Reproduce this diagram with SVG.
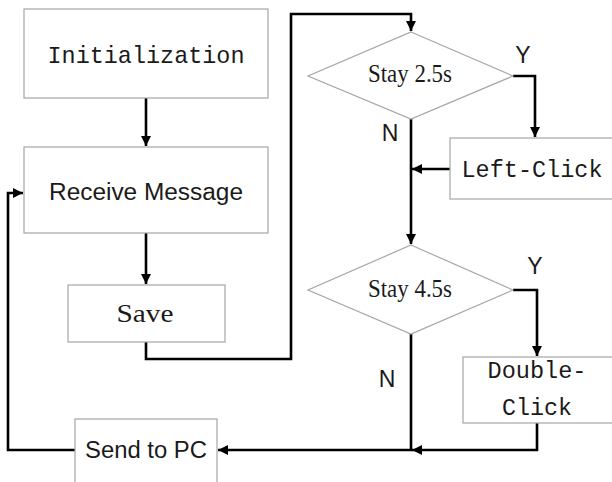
<svg xmlns="http://www.w3.org/2000/svg" width="612" height="482" viewBox="0 0 612 482">
<style>
.box{fill:#fff;stroke:#a6a6a6;stroke-width:1.2}
.con{fill:none;stroke:#000;stroke-width:2.6}
.mono{font-family:"Liberation Mono",monospace;font-size:24px;fill:#1a1a1a}
.sans{font-family:"Liberation Sans",Arial,sans-serif;font-size:23px;fill:#1a1a1a}
.serif{font-family:"Liberation Serif","Times New Roman",serif;font-size:25px;fill:#1a1a1a}
.lbl{font-family:"Liberation Sans",Arial,sans-serif;font-size:23px;fill:#1a1a1a}
</style>
<defs>
<marker id="ah" viewBox="0 0 10 10" refX="10" refY="5" markerWidth="4" markerHeight="4.2" orient="auto" markerUnits="strokeWidth">
<path d="M0,0 L10,5 L0,10 z" fill="#000"/>
</marker>
</defs>
<rect width="612" height="482" fill="#fff"/>
<g id="connectors">
<path class="con" d="M146,98 V146" marker-end="url(#ah)"/>
<path class="con" d="M146,233 V284" marker-end="url(#ah)"/>
<path class="con" d="M146,342 V359 H291 V14 H411 V31" marker-end="url(#ah)"/>
<path class="con" d="M513,76 H535 V137" marker-end="url(#ah)"/>
<path class="con" d="M450,169 H412" marker-end="url(#ah)"/>
<path class="con" d="M411,119 V244" marker-end="url(#ah)"/>
<path class="con" d="M513,290 H537 V356" marker-end="url(#ah)"/>
<path class="con" d="M537,423 V450 H412" marker-end="url(#ah)"/>
<path class="con" d="M411,334 V450 H218" marker-end="url(#ah)"/>
<path class="con" d="M75,450 H8 V193 H23" marker-end="url(#ah)"/>
</g>
<g id="init">
<rect class="box" x="24" y="9" width="244" height="89"/>
<text class="mono" x="146" y="63" text-anchor="middle" textLength="197" lengthAdjust="spacingAndGlyphs">Initialization</text>
</g>
<g id="receive">
<rect class="box" x="24" y="147" width="244" height="86"/>
<text class="sans" x="146" y="200" text-anchor="middle" textLength="194" lengthAdjust="spacingAndGlyphs">Receive Message</text>
</g>
<g id="save">
<rect class="box" x="68" y="285" width="157" height="57"/>
<text class="serif" x="145" y="322" text-anchor="middle" font-size="27" textLength="57" lengthAdjust="spacingAndGlyphs">Save</text>
</g>
<g id="stay25">
<polygon class="box" points="411,32 513,76 411,119 308,76"/>
<text class="serif" x="410" y="82" text-anchor="middle" textLength="84" lengthAdjust="spacingAndGlyphs">Stay 2.5s</text>
<text class="lbl" x="523" y="63" text-anchor="middle">Y</text>
<text class="lbl" x="390" y="141" text-anchor="middle">N</text>
</g>
<g id="leftclick">
<rect class="box" x="450" y="138" width="170" height="61"/>
<text class="mono" x="532" y="177" text-anchor="middle" textLength="141" lengthAdjust="spacingAndGlyphs">Left-Click</text>
</g>
<g id="stay45">
<polygon class="box" points="411,245 513,290 411,334 308,290"/>
<text class="serif" x="410" y="297" text-anchor="middle" textLength="84" lengthAdjust="spacingAndGlyphs">Stay 4.5s</text>
<text class="lbl" x="535" y="274" text-anchor="middle">Y</text>
<text class="lbl" x="387" y="387" text-anchor="middle">N</text>
</g>
<g id="doubleclick">
<rect class="box" x="463" y="357" width="160" height="66"/>
<text class="mono" x="537" y="378" text-anchor="middle" textLength="99" lengthAdjust="spacingAndGlyphs">Double-</text>
<text class="mono" x="537" y="415" text-anchor="middle" textLength="70" lengthAdjust="spacingAndGlyphs">Click</text>
</g>
<g id="sendpc">
<rect class="box" x="75" y="419" width="142" height="80"/>
<text class="sans" x="146" y="458" text-anchor="middle" textLength="122" lengthAdjust="spacingAndGlyphs">Send to PC</text>
</g>
</svg>
